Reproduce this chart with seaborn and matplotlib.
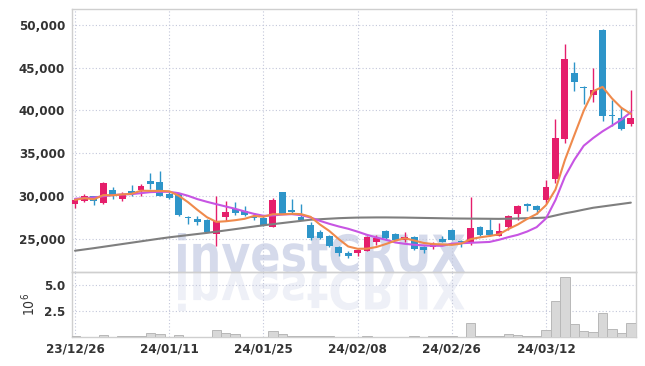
import numpy as np
import pandas as pd
import matplotlib
matplotlib.use("Agg")
import matplotlib.pyplot as plt
import seaborn as sns
from matplotlib.textpath import TextPath
from matplotlib.patches import PathPatch
from matplotlib.font_manager import FontProperties
from matplotlib.transforms import Affine2D

# daily candles, 23/12/26 .. 24/03/25 (trading days only)
opens = [28990, 29450, 29920, 29140, 30700, 29650, 30590, 30700, 31760, 31640,
         30230, 30200, 27500, 27310, 27190, 25550, 27500, 28440, 28170, 27660,
         27450, 26330, 30430, 28360, 27500, 26600, 25710, 25240, 23990, 23330,
         23290, 23560, 24650, 25900, 25510, 24770, 25160, 23950, 23950, 24930,
         26020, 24750, 24580, 26290, 26020, 25320, 26310, 27890, 29060, 28830,
         29550, 32010, 36640, 44340, 42730, 41790, 49410, 39430, 39120, 38410]
highs = [29800, 30230, 30000, 31600, 31010, 30390, 31290, 31370, 32650, 32930,
         30620, 30310, 27660, 27580, 27230, 29920, 29410, 29220, 28750, 27970,
         27600, 29730, 30500, 29610, 29020, 26880, 25940, 25430, 24150, 23480,
         23800, 25240, 25430, 26020, 25630, 25710, 25240, 24070, 24540, 25240,
         26100, 24850, 29840, 26490, 27270, 26800, 27780, 28950, 29140, 28950,
         31900, 39000, 47720, 45720, 42850, 44970, 49530, 41160, 40420, 42340]
lows = [28550, 29260, 28870, 29020, 29610, 29450, 30000, 30000, 30780, 29920,
        29610, 27580, 26720, 26600, 25710, 24150, 27070, 27780, 27580, 27190,
        26450, 26290, 27890, 27970, 27110, 24770, 24960, 23990, 22970, 22700,
        22900, 23480, 24270, 24850, 24770, 24650, 23680, 23290, 23760, 24540,
        24770, 24050, 24270, 25350, 25350, 25240, 26020, 27110, 28170, 27890,
        29200, 31460, 36170, 42300, 40690, 41000, 38800, 38220, 37740, 38220]
closes = [29530, 29920, 29340, 31520, 30000, 30040, 30270, 31170, 31400, 30000,
          29800, 27700, 27350, 26880, 25750, 27070, 28050, 27970, 27700, 27420,
          26600, 29530, 27890, 28050, 27190, 25040, 25040, 24070, 23290, 22900,
          23680, 25120, 25040, 25040, 24850, 25120, 23800, 23600, 24380, 24650,
          24850, 24550, 26210, 25430, 25430, 25830, 27660, 28830, 28750, 28280,
          31000, 36800, 46070, 43320, 42620, 42420, 39320, 39320, 37820, 39120]
# volume, millions of shares
volume = [0.05, 0.03, 0.03, 0.17, 0.03, 0.05, 0.13, 0.13, 0.43, 0.27,
          0.03, 0.23, 0.03, 0.03, 0.03, 0.63, 0.37, 0.27, 0.03, 0.03,
          0.03, 0.57, 0.27, 0.05, 0.05, 0.13, 0.05, 0.05, 0.03, 0.01,
          0.01, 0.05, 0.01, 0.01, 0.01, 0.01, 0.05, 0.01, 0.05, 0.05,
          0.05, 0.01, 1.33, 0.05, 0.05, 0.05, 0.33, 0.23, 0.13, 0.05,
          0.63, 3.43, 5.75, 1.27, 0.57, 0.47, 2.27, 0.77, 0.37, 1.33]
# longer moving averages (they need earlier history)
ma20 = [29650, 29730, 29800, 29950, 30080, 30160, 30200, 30310, 30430, 30470,
        30470, 30310, 30000, 29610, 29300, 29020, 28750, 28480, 28170, 27890,
        27660, 27700, 27810, 27850, 27740, 27460, 27070, 26720, 26410, 26140,
        25800, 25430, 25120, 24850, 24540, 24380, 24270, 24190, 24150, 24150,
        24400, 24450, 24500, 24550, 24600, 24850, 25160, 25430, 25820, 26330,
        27350, 29500, 32240, 34210, 35860, 36760, 37550, 38220, 38920, 39790]
ma60 = [23570, 23720, 23870, 24030, 24190, 24350, 24510, 24670, 24830, 24990,
        25140, 25270, 25400, 25530, 25660, 25800, 25950, 26100, 26250, 26400,
        26550, 26680, 26810, 26940, 27070, 27200, 27260, 27320, 27380, 27420,
        27450, 27460, 27470, 27470, 27460, 27450, 27430, 27410, 27390, 27370,
        27350, 27340, 27330, 27320, 27310, 27300, 27320, 27350, 27380, 27410,
        27450, 27700, 27950, 28150, 28380, 28600, 28750, 28900, 29050, 29200]

tick_idx = [0, 10, 20, 30, 40, 50]
tick_labels = ["23/12/26", "24/01/11", "24/01/25", "24/02/08", "24/02/26", "24/03/12"]

df = pd.DataFrame({"open": opens, "high": highs, "low": lows, "close": closes,
                   "vol": volume, "ma20": ma20, "ma60": ma60})
df["i"] = np.arange(len(df))
df["ma5"] = df["close"].rolling(5, min_periods=1).mean()

sns.set_theme(style="white")
plt.rcParams["font.family"] = ["DejaVu Sans"]
plt.rcParams["font.stretch"] = "condensed"

up_c = "#e51e6b"
dn_c = "#2e95c9"
grid_c = "#c3c7da"
txt_c = "#333333"

fig = plt.figure(figsize=(6.45, 3.66), dpi=100)
fig.patch.set_facecolor("white")
W, H = 645, 366
ax = fig.add_axes([72 / W, 1 - 272 / H, 564 / W, 263 / H])
axv = fig.add_axes([72 / W, 1 - 337 / H, 564 / W, 65 / H], sharex=ax)
for a in (ax, axv):
    a.set_facecolor("none")

# watermark with reflection
fp = FontProperties(family="DejaVu Sans", weight="bold", stretch="normal")
tp = TextPath((0, 0), "investCRUX", size=100, prop=fp)
bb = tp.get_extents()
sx = 287 / bb.width
sy = 39 / bb.y1
base = H - 272
tr = Affine2D().translate(-bb.x0, 0).scale(sx, sy).translate(178, base)
fig.patches.append(PathPatch(tr.transform_path(tp), facecolor="#d5daeb",
                             edgecolor="none", zorder=-5, transform=None))
tr2 = Affine2D().translate(-bb.x0, 0).scale(sx, -sy).translate(178, base)
fig.patches.append(PathPatch(tr2.transform_path(tp), facecolor="#eef0f7",
                             edgecolor="none", zorder=-5, transform=None))

# candles
colors = np.where(df["close"] >= df["open"], up_c, dn_c)
ax.vlines(df["i"], df["low"], df["high"], colors=colors, linewidth=1, zorder=3)
body_lo = np.minimum(df["open"], df["close"])
body_h = np.maximum((df["close"] - df["open"]).abs(), 80)
ax.bar(df["i"], body_h, bottom=body_lo, width=0.72, color=colors, linewidth=0, zorder=4)

sns.lineplot(data=df, x="i", y="ma60", color="#7f7f7f", linewidth=1.5, ax=ax, zorder=5)
sns.lineplot(data=df, x="i", y="ma20", color="#c755e3", linewidth=1.5, ax=ax, zorder=5)
sns.lineplot(data=df, x="i", y="ma5", color="#ef8a4c", linewidth=1.5, ax=ax, zorder=6)

ax.set_ylim(21080, 51870)
ax.set_yticks([25000, 30000, 35000, 40000, 45000, 50000])
ax.set_yticklabels([f"{v:,}" for v in [25000, 30000, 35000, 40000, 45000, 50000]])
ax.set_xlim(-0.32, 59.55)
ax.set_xlabel("")
ax.set_ylabel("")
ax.tick_params(axis="x", labelbottom=False, length=0)

# volume
sns.barplot(data=df, x="i", y="vol", native_scale=True, width=1.0, color="#d8d8d8",
            saturation=1, edgecolor="#b8b8b8", linewidth=0.7, ax=axv, zorder=3)
axv.set_ylim(0, 6.25)
axv.set_yticks([2.5, 5.0])
axv.set_yticklabels(["2.5", "5.0"])
axv.set_xlim(-0.32, 59.55)
axv.set_xticks(tick_idx)
axv.set_xticklabels(tick_labels)
axv.set_xlabel("")
axv.set_ylabel("$10^{6}$", fontsize=10, color=txt_c, labelpad=4)

for a in (ax, axv):
    a.grid(True, color=grid_c, linestyle=(0, (1, 2)), linewidth=0.8)
    a.set_axisbelow(True)
    a.tick_params(axis="both", length=0, labelsize=9.5, labelcolor=txt_c, pad=5)
    for lab in a.get_yticklabels() + a.get_xticklabels():
        lab.set_fontweight("bold")
        lab.set_fontstretch("condensed")
    for s in a.spines.values():
        s.set_color("#cfcfcf")
        s.set_linewidth(1)
axv.tick_params(axis="x", pad=4)

fig.savefig("out.png", dpi=100)
